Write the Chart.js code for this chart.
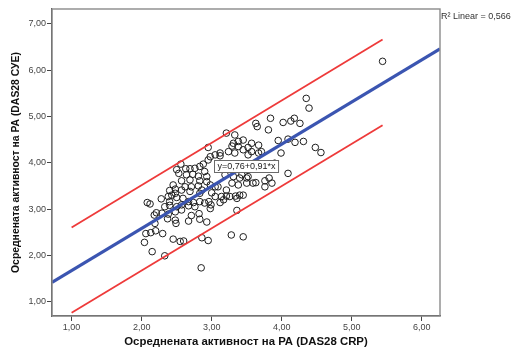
<!DOCTYPE html>
<html>
<head>
<meta charset="utf-8">
<script src="https://cdn.jsdelivr.net/npm/chart.js@4"></script>
<style>
  html, body { margin: 0; padding: 0; background: #fff; }
  #wrap { width: 511px; height: 349px; }
</style>
</head>
<body>
<div id="wrap"><canvas id="chart" width="511" height="349"></canvas></div>
<script>
// ===== DATA =====
// mean disease activity: DAS28 CRP (x) vs DAS28 ESR (y), one pair per patient
const crpValues = [
  2.04, 2.15, 2.33, 2.06, 2.13, 2.20, 2.30, 2.45, 2.55, 2.60, 2.86, 2.95, 2.85,
  2.08, 2.12, 2.18, 2.21, 2.19, 2.28, 2.29, 2.33, 2.40, 2.38, 2.37, 2.48, 2.49,
  2.48, 2.50, 2.57, 2.57, 2.67, 2.67, 2.71, 2.82, 2.83, 2.93, 2.74, 2.83, 2.90,
  2.96, 2.99, 2.98, 3.05, 2.38, 2.43, 2.48, 2.50, 2.83, 3.00, 2.40, 2.59, 2.67,
  2.76, 3.28, 3.45, 3.36, 3.12, 3.14, 3.21, 3.34, 3.40, 3.17, 3.26, 3.36, 3.09,
  3.21, 3.29, 3.38, 3.45, 3.59, 3.50, 3.63, 2.56, 2.50, 2.53, 2.63, 2.69, 2.76,
  2.83, 2.88, 2.90, 2.64, 2.73, 2.81, 2.93, 2.69, 2.57, 2.83, 2.93, 2.45, 2.62,
  2.71, 2.40, 2.48, 2.57, 2.69, 2.86, 2.81, 2.98, 3.05, 2.95, 2.98, 3.05, 2.95,
  3.12, 3.63, 3.65, 3.81, 3.84, 4.02, 4.13, 4.18, 4.26, 4.35, 4.39, 3.21, 3.33,
  3.45, 3.38, 3.31, 3.57, 3.67, 3.52, 3.45, 3.38, 3.29, 3.24, 3.57, 3.71, 3.12,
  3.33, 3.52, 3.67, 3.95, 4.09, 4.19, 4.31, 4.48, 4.56, 3.99, 3.81, 3.82, 3.76,
  3.86, 3.76, 3.90, 4.09, 3.19, 3.31, 3.43, 3.52, 3.40, 3.50, 5.44
];
const esrValues = [
  2.28, 2.08, 1.99, 2.47, 2.49, 2.53, 2.47, 2.35, 2.30, 2.31, 2.38, 2.32, 1.73,
  3.14, 3.11, 2.87, 2.92, 2.69, 3.22, 2.91, 3.05, 3.08, 2.89, 2.79, 2.76, 2.69,
  2.94, 3.05, 3.09, 2.98, 3.07, 2.74, 2.86, 2.90, 2.78, 2.72, 3.14, 3.16, 3.13,
  3.16, 3.09, 3.01, 3.27, 3.27, 3.30, 3.34, 3.25, 3.34, 3.35, 3.16, 3.23, 3.16,
  3.05, 2.44, 2.40, 2.97, 3.14, 3.27, 3.28, 3.28, 3.30, 3.20, 3.27, 3.23, 3.48,
  3.41, 3.56, 3.52, 3.30, 3.56, 3.56, 3.57, 3.97, 3.85, 3.77, 3.87, 3.87, 3.88,
  3.92, 3.97, 3.81, 3.74, 3.75, 3.71, 3.70, 3.63, 3.61, 3.61, 3.59, 3.52, 3.48,
  3.48, 3.40, 3.43, 3.41, 3.38, 3.41, 3.50, 3.52, 3.48, 4.33, 4.13, 4.17, 4.06,
  4.15, 4.85, 4.78, 4.71, 4.96, 4.87, 4.90, 4.96, 4.85, 5.39, 5.18, 4.64, 4.60,
  4.49, 4.46, 4.42, 4.42, 4.38, 4.33, 4.28, 4.35, 4.36, 4.24, 4.24, 4.24, 4.21,
  4.21, 4.17, 4.21, 4.48, 4.51, 4.44, 4.46, 4.33, 4.22, 4.21, 3.88, 3.67, 3.61,
  3.56, 3.48, 3.99, 3.77, 3.74, 3.70, 3.74, 3.70, 3.67, 3.67, 6.19
];

// linear fit and its 95% individual prediction band
const fitIntercept = 0.76;
const fitSlope = 0.91;
const fitRSquared = 0.566;
const bandX = [1.00, 5.44];
const bandUpper = [2.60, 6.66];
const bandLower = [0.76, 4.81];

// axes
const xRange = [0.72, 6.26];
const yRange = [0.69, 7.32];
const xTicks = [1, 2, 3, 4, 5, 6];
const yTicks = [1, 2, 3, 4, 5, 6, 7];

const xTitle = 'Осреднената активност на РА (DAS28 CRP)';
const yTitle = 'Осреднената активност на РА (DAS28 СУЕ)';

// ===== HELPERS =====
const fmt2 = v => v.toFixed(2).replace('.', ',');
const fmt3 = v => v.toFixed(3).replace('.', ',');

const points = crpValues.map((x, i) => ({x, y: esrValues[i]}));
const fitLine = xRange.map(x => ({x, y: fitIntercept + fitSlope * x}));
const upperLine = bandX.map((x, i) => ({x, y: bandUpper[i]}));
const lowerLine = bandX.map((x, i) => ({x, y: bandLower[i]}));

const FONT = '"Liberation Sans", Arial, sans-serif';

// ===== PLUGINS =====
// grey frame round the plot area (top and right sides included)
const framePlugin = {
  id: 'frame',
  afterDraw(chart) {
    const {ctx, chartArea: a} = chart;
    ctx.save();
    ctx.strokeStyle = '#8a8a8a';
    ctx.lineWidth = 1.4;
    ctx.strokeRect(a.left, a.top, a.right - a.left, a.bottom - a.top);
    ctx.restore();
  }
};

// fit equation in a small boxed label, anchored in data units
const eqAnchor = {x: 3.04, y: 4.05};
const equationPlugin = {
  id: 'equation',
  afterDatasetsDraw(chart) {
    const {ctx, scales} = chart;
    const text = `y=${fmt2(fitIntercept)}+${fmt2(fitSlope)}*x`;
    ctx.save();
    ctx.font = `9px ${FONT}`;
    const w = ctx.measureText(text).width + 6;
    const h = 12;
    const left = Math.round(scales.x.getPixelForValue(eqAnchor.x)) + 0.5;
    const top = Math.round(scales.y.getPixelForValue(eqAnchor.y)) + 0.5;
    ctx.fillStyle = '#fff';
    ctx.fillRect(left, top, w, h);
    ctx.strokeStyle = '#6a6a6a';
    ctx.lineWidth = 1;
    ctx.strokeRect(left, top, w, h);
    ctx.fillStyle = '#222';
    ctx.textBaseline = 'middle';
    ctx.fillText(text, left + 3, top + h / 2 + 0.5);
    ctx.restore();
  }
};

// R-squared note just outside the top-right corner
const rSquaredPlugin = {
  id: 'rsquared',
  afterDraw(chart) {
    const {ctx, chartArea: a} = chart;
    ctx.save();
    ctx.font = `9px ${FONT}`;
    ctx.fillStyle = '#333';
    ctx.textBaseline = 'middle';
    ctx.fillText('R² Linear = ' + fmt3(fitRSquared), a.right + 1, a.top + 8);
    ctx.restore();
  }
};

// ===== CHART =====
new Chart(document.getElementById('chart'), {
  type: 'scatter',
  data: {
    datasets: [
      {type: 'line', data: fitLine, borderColor: '#3b55b1', borderWidth: 3.2,
       pointRadius: 0, fill: false, tension: 0},
      {type: 'line', data: upperLine, borderColor: '#ee3a3a', borderWidth: 1.8,
       pointRadius: 0, fill: false, tension: 0},
      {type: 'line', data: lowerLine, borderColor: '#ee3a3a', borderWidth: 1.8,
       pointRadius: 0, fill: false, tension: 0},
      {data: points, pointStyle: 'circle', pointRadius: 3.3,
       borderColor: '#1e1e1e', borderWidth: 1, backgroundColor: 'rgba(0,0,0,0)'}
    ]
  },
  options: {
    responsive: false,
    animation: false,
    devicePixelRatio: 1,
    layout: {padding: {left: 0, right: 71, top: 9, bottom: 0}},
    plugins: {legend: {display: false}, tooltip: {enabled: false}},
    scales: {
      x: {
        type: 'linear', min: xRange[0], max: xRange[1],
        afterBuildTicks: s => { s.ticks = xTicks.map(v => ({value: v})); },
        afterFit: s => { s.height = 33; },
        grid: {drawOnChartArea: false, drawTicks: true, tickLength: 5, color: '#444'},
        border: {display: true, color: '#444', width: 1.2},
        ticks: {padding: 1, color: '#444', font: {family: FONT, size: 9},
                callback: v => fmt2(v), maxRotation: 0},
        title: {display: true, text: xTitle, color: '#111',
                font: {family: FONT, size: 11.4, weight: 'bold'}, padding: {top: 0, bottom: 0}}
      },
      y: {
        type: 'linear', min: yRange[0], max: yRange[1],
        afterBuildTicks: s => { s.ticks = yTicks.map(v => ({value: v})); },
        afterFit: s => { s.width = 52; },
        grid: {drawOnChartArea: false, drawTicks: true, tickLength: 5, color: '#444'},
        border: {display: true, color: '#444', width: 1.2},
        ticks: {padding: 1, color: '#444', font: {family: FONT, size: 9},
                callback: v => fmt2(v)},
        title: {display: true, text: yTitle, color: '#111',
                font: {family: FONT, size: 10.4, weight: 'bold'}, padding: {top: 10, bottom: 0}}
      }
    }
  },
  plugins: [framePlugin, equationPlugin, rSquaredPlugin]
});
</script>
</body>
</html>
